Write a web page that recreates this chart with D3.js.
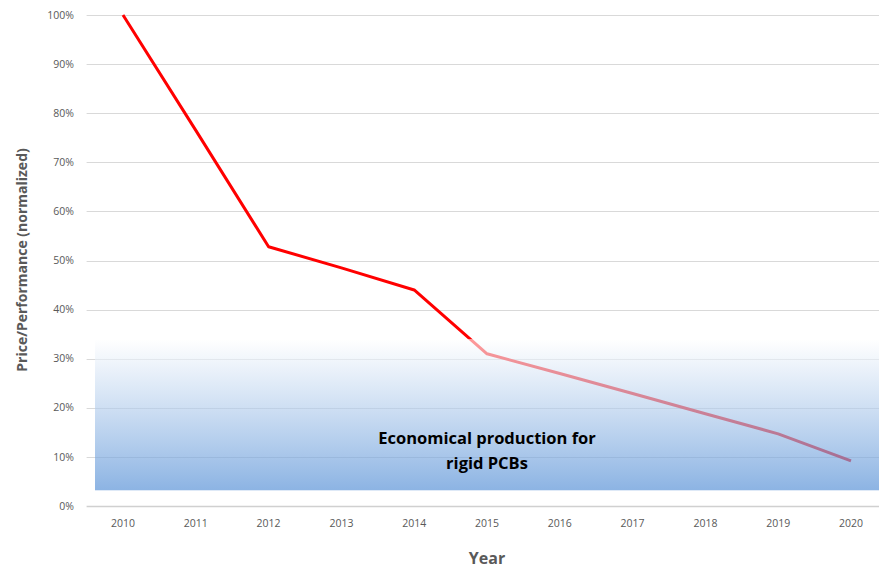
<!DOCTYPE html>
<html>
<head>
<meta charset="utf-8">
<script src="https://cdn.jsdelivr.net/npm/d3@7"></script>
<style>
  body { margin: 0; background: #fff; }
  text { font-family: "Open Sans", "Noto Sans", sans-serif; }
</style>
</head>
<body>
<div id="chart"></div>
<script>
// values
const years = [2010, 2011, 2012, 2013, 2014, 2015, 2016, 2017, 2018, 2019, 2020];
const pricePerf = [1.00, 0.765, 0.528, 0.485, 0.44, 0.31, 0.27, 0.229, 0.188, 0.147, 0.092];
const yTicks = [0, 0.1, 0.2, 0.3, 0.4, 0.5, 0.6, 0.7, 0.8, 0.9, 1.0];
const zoneRange = [0.032, 0.34];   // "economical" band, bottom / top
const zoneLabel = ["Economical production for", "rigid PCBs"];

const width = 879, height = 570;
const plotLeft = 86.6, plotTop = 15, plotBottom = 506;

const svg = d3.select("#chart").append("svg")
  .attr("width", width)
  .attr("height", height);

const x = d3.scaleBand()
  .domain(years)
  .range([plotLeft, plotLeft + 72.8 * years.length]);

const y = d3.scaleLinear()
  .domain([0, 1])
  .range([plotBottom, plotTop]);

const xc = d => x(d) + x.bandwidth() / 2;

// gridlines
svg.append("g")
  .selectAll("line")
  .data(yTicks)
  .enter()
  .append("line")
  .attr("x1", plotLeft)
  .attr("x2", width)
  .attr("y1", d => Math.round(y(d)) + 0.5)
  .attr("y2", d => Math.round(y(d)) + 0.5)
  .attr("stroke", d => d == 0 ? "#d0d0d0" : "#d9d9d9")
  .attr("stroke-width", d => d == 0 ? 1.5 : 1);

// y tick labels
svg.append("g")
  .selectAll("text")
  .data(yTicks)
  .enter()
  .append("text")
  .attr("x", 74)
  .attr("y", d => y(d))
  .attr("dy", "0.35em")
  .attr("text-anchor", "end")
  .attr("fill", "#595959")
  .style("font-size", "10.5px")
  .text(d3.format(".0%"));

// x tick labels
svg.append("g")
  .selectAll("text")
  .data(years)
  .enter()
  .append("text")
  .attr("x", xc)
  .attr("y", 527)
  .attr("text-anchor", "middle")
  .attr("fill", "#595959")
  .style("font-size", "10.5px")
  .text(d => d);

// the line
const line = d3.line()
  .x((d, i) => xc(years[i]))
  .y(d => y(d));

svg.append("path")
  .datum(pricePerf)
  .attr("d", line)
  .attr("fill", "none")
  .attr("stroke", "#ff0000")
  .attr("stroke-width", 3)
  .attr("stroke-linejoin", "round");

// semi transparent band drawn over the line
const grad = svg.append("defs").append("linearGradient")
  .attr("id", "zoneGrad")
  .attr("x1", 0).attr("y1", 0)
  .attr("x2", 0).attr("y2", 1);
grad.append("stop").attr("offset", "0%").attr("stop-color", "#ffffff").attr("stop-opacity", 0.6);
grad.append("stop").attr("offset", "100%").attr("stop-color", "#5690d6").attr("stop-opacity", 0.68);

svg.append("rect")
  .attr("x", 95)
  .attr("y", y(zoneRange[1]))
  .attr("width", width - 95)
  .attr("height", y(zoneRange[0]) - y(zoneRange[1]))
  .attr("fill", "url(#zoneGrad)");

svg.append("g")
  .selectAll("text")
  .data(zoneLabel)
  .enter()
  .append("text")
  .attr("x", 487)
  .attr("y", (d, i) => 444 + i * 25)
  .attr("text-anchor", "middle")
  .attr("fill", "#000")
  .style("font-size", "16.5px")
  .style("font-weight", "bold")
  .text(d => d);

// axis titles
svg.append("text")
  .attr("x", 487)
  .attr("y", 564)
  .attr("text-anchor", "middle")
  .attr("fill", "#595959")
  .style("font-size", "16px")
  .style("font-weight", "bold")
  .text("Year");

svg.append("text")
  .attr("transform", "translate(27,260)rotate(-90)")
  .attr("text-anchor", "middle")
  .attr("fill", "#595959")
  .style("font-size", "14px")
  .style("font-weight", "bold")
  .text("Price/Performance (normalized)");
</script>
</body>
</html>
